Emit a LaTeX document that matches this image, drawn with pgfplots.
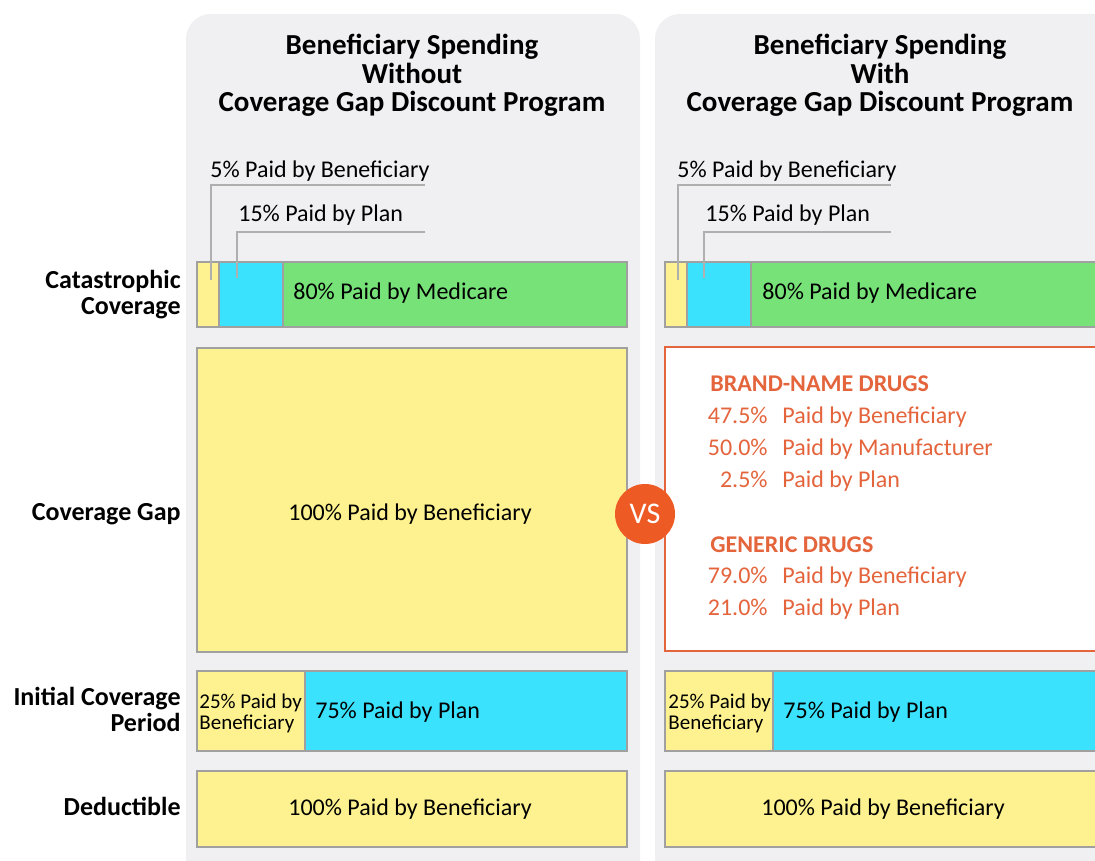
\documentclass[border=0pt]{standalone}
\usepackage{fontspec}
\setmainfont{Carlito}
\usepackage{pgfplots}
\pgfplotsset{compat=1.18}
\definecolor{panel}{RGB}{240,240,242}
\definecolor{ylw}{RGB}{253,242,143}
\definecolor{cyn}{RGB}{58,226,254}
\definecolor{grn}{RGB}{118,226,120}
\definecolor{bord}{RGB}{160,160,160}
\definecolor{lead}{RGB}{175,175,175}
\definecolor{org}{RGB}{228,100,60}
\definecolor{vsc}{RGB}{238,90,36}
\newcommand{\fs}[2]{\fontsize{#1}{#2}\selectfont}
\pgfplotsset{panelaxis/.style={scale only axis, width=215pt, height=430pt,
  xmin=0, xmax=100, ymin=0, ymax=860, y dir=reverse, hide axis, clip=false},
  seg/.style={fill=#1, draw=bord, line width=1pt}}
\begin{document}
\begin{tikzpicture}[x=0.5pt,y=-0.5pt]
\useasboundingbox (0,0) rectangle (1095,860);
\fill[white] (0,0) rectangle (1095,860);
\fill[panel, rounded corners=12.5pt] (186,14) rectangle (640,890);
\fill[panel, rounded corners=12.5pt] (655,14) rectangle (1130,890);

% titles
\begin{scope}[every node/.style={font=\fs{14.5}{14.5}\bfseries, anchor=base, inner sep=0pt}]
\node at (412,55) {Beneficiary Spending};
\node at (412,84) {Without};
\node at (412,112) {Coverage Gap Discount Program};
\node at (880,55) {Beneficiary Spending};
\node at (880,84) {With};
\node at (880,112) {Coverage Gap Discount Program};
\end{scope}

% row labels
\begin{scope}[every node/.style={font=\fs{13}{13}\bfseries, anchor=base east, inner sep=0pt}]
\node at (181,289) {Catastrophic};
\node at (181,315) {Coverage};
\node at (181,520) {Coverage Gap};
\node at (181,705) {Initial Coverage};
\node at (181,731) {Period};
\node at (181,815) {Deductible};
\end{scope}

% left panel bars (x in percent of the bar, y in pixels)
\begin{axis}[panelaxis, at={(98.5pt,-430pt)}, anchor=south west]
\addplot[seg=ylw] coordinates {(0,262) (5,262) (5,327) (0,327)} -- cycle;
\addplot[seg=cyn] coordinates {(5,262) (20,262) (20,327) (5,327)} -- cycle;
\addplot[seg=grn] coordinates {(20,262) (100,262) (100,327) (20,327)} -- cycle;
\addplot[seg=ylw] coordinates {(0,348) (100,348) (100,652) (0,652)} -- cycle;
\addplot[seg=ylw] coordinates {(0,671) (25,671) (25,751) (0,751)} -- cycle;
\addplot[seg=cyn] coordinates {(25,671) (100,671) (100,751) (25,751)} -- cycle;
\addplot[seg=ylw] coordinates {(0,771) (100,771) (100,847) (0,847)} -- cycle;
\end{axis}

% right panel bars
\begin{axis}[panelaxis, at={(332.5pt,-430pt)}, anchor=south west]
\addplot[seg=ylw] coordinates {(0,262) (5,262) (5,327) (0,327)} -- cycle;
\addplot[seg=cyn] coordinates {(5,262) (20,262) (20,327) (5,327)} -- cycle;
\addplot[seg=grn] coordinates {(20,262) (102,262) (102,327) (20,327)} -- cycle;
\addplot[fill=white, draw=org, line width=1.2pt] coordinates {(0,347) (102,347) (102,651) (0,651)} -- cycle;
\addplot[seg=ylw] coordinates {(0,671) (25,671) (25,751) (0,751)} -- cycle;
\addplot[seg=cyn] coordinates {(25,671) (102,671) (102,751) (25,751)} -- cycle;
\addplot[seg=ylw] coordinates {(0,771) (102,771) (102,847) (0,847)} -- cycle;
\end{axis}

% leader lines
\draw[lead, line width=0.8pt] (425,185) -- (211,185) -- (211,280);
\draw[lead, line width=0.8pt] (425,232) -- (237,232) -- (237,278);
\draw[lead, line width=0.8pt] (891,185) -- (678,185) -- (678,280);
\draw[lead, line width=0.8pt] (891,232) -- (704,232) -- (704,278);

\begin{scope}[every node/.style={font=\fs{12}{12}, inner sep=0pt}]
\node[anchor=base west] at (210,178) {5\% Paid by Beneficiary};
\node[anchor=base west] at (238,222) {15\% Paid by Plan};
\node[anchor=base west] at (677,178) {5\% Paid by Beneficiary};
\node[anchor=base west] at (705,222) {15\% Paid by Plan};
\node[anchor=base west] at (293,300) {80\% Paid by Medicare};
\node[anchor=base west] at (762,300) {80\% Paid by Medicare};
\node[anchor=base] at (410,520) {100\% Paid by Beneficiary};
\node[anchor=base west] at (315,718) {75\% Paid by Plan};
\node[anchor=base west] at (783,718) {75\% Paid by Plan};
\node[anchor=base] at (410,815) {100\% Paid by Beneficiary};
\node[anchor=base] at (883,815) {100\% Paid by Beneficiary};
\end{scope}
\begin{scope}[every node/.style={font=\fs{10.5}{10.5}, inner sep=0pt, anchor=base west}]
\node at (199,708) {25\% Paid by};
\node at (199,729) {Beneficiary};
\node at (668,708) {25\% Paid by};
\node at (668,729) {Beneficiary};
\end{scope}

% orange text
\begin{scope}[every node/.style={font=\fs{12}{12}, inner sep=0pt, text=org}]
\node[anchor=base west, font=\fs{12}{12}\bfseries] at (710,392) {BRAND-NAME DRUGS};
\node[anchor=base east] at (768,423) {47.5\%};
\node[anchor=base west] at (782,423) {Paid by Beneficiary};
\node[anchor=base east] at (768,455) {50.0\%};
\node[anchor=base west] at (782,455) {Paid by Manufacturer};
\node[anchor=base east] at (768,487) {2.5\%};
\node[anchor=base west] at (782,487) {Paid by Plan};
\node[anchor=base west, font=\fs{12}{12}\bfseries] at (710,552) {GENERIC DRUGS};
\node[anchor=base east] at (768,583) {79.0\%};
\node[anchor=base west] at (782,583) {Paid by Beneficiary};
\node[anchor=base east] at (768,615) {21.0\%};
\node[anchor=base west] at (782,615) {Paid by Plan};
\end{scope}

% VS badge
\fill[vsc] (645,514) circle[radius=15pt];
\node[text=white, font=\fs{15}{15}] at (645,514) {VS};
\end{tikzpicture}
\end{document}
